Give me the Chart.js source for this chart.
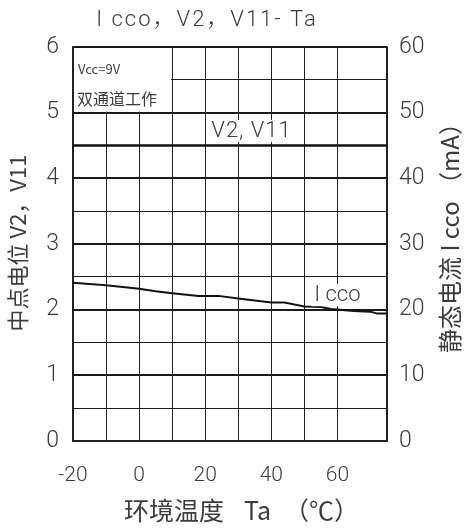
<!DOCTYPE html>
<html>
<head>
<meta charset="utf-8">
<script src="https://cdn.jsdelivr.net/npm/chart.js@4/dist/chart.umd.min.js"></script>
<style>
  html, body { margin: 0; padding: 0; background: #fff; }
  #wrap { width: 467px; height: 528px; }
</style>
</head>
<body>
<div id="wrap"><canvas id="myChart" width="467" height="528"></canvas></div>
<script>
// values
var tempC   = [-20, -10, 0, 5, 10, 18, 24, 30, 40, 44, 50, 55, 58, 65, 70, 72, 75];
var iccoMA  = [24.1, 23.7, 23.2, 22.8, 22.5, 22.1, 22.1, 21.7, 21.1, 21.1, 20.5, 20.4, 20.1, 19.8, 19.7, 19.4, 19.4];
var vTemp   = [-20, 75];
var v2v11   = [4.5, 4.5];
var xLabels = [-20, 0, 20, 40, 60];

var ink = '#3c3c3c';
var cjk = '"Noto Sans CJK SC", "Noto Sans", sans-serif';

function pts(xs, ys) {
    return xs.map(function (x, i) { return { x: x, y: ys[i] }; });
}

// white boxes + texts inside the plot
var notes = {
    id: 'notes',
    beforeDatasetsDraw: function (chart) {
        var c = chart.ctx, sx = chart.scales.x, sy = chart.scales.y;
        var x0 = sx.getPixelForValue(-20), x1 = sx.getPixelForValue(10);
        var y0 = sy.getPixelForValue(6), y1 = sy.getPixelForValue(5);
        c.save();
        c.fillStyle = '#fff';
        c.fillRect(x0 + 1, y0 + 1, x1 - x0 - 2, y1 - y0 - 2);
        c.fillStyle = ink;
        c.textBaseline = 'middle';
        c.font = '13px ' + cjk;
        c.fillText('Vcc=9V', x0 + 5, y0 + 22);
        c.font = '16px ' + cjk;
        c.fillText('双通道工作', x0 + 4, y0 + 52);
        c.restore();
    },
    afterDatasetsDraw: function (chart) {
        var c = chart.ctx, sx = chart.scales.x, sy = chart.scales.y, sr = chart.scales.y2;
        c.save();
        c.textAlign = 'center';
        c.textBaseline = 'middle';
        c.font = '300 22px Roboto, ' + cjk;
        // V2, V11 label
        var lx = sx.getPixelForValue(34), ly = sy.getPixelForValue(4.72);
        c.fillStyle = '#fff';
        c.fillRect(lx - 41, ly - 11, 82, 22);
        c.fillStyle = ink;
        c.letterSpacing = '1px';
        c.fillText('V2, V11', lx, ly);
        c.letterSpacing = '0px';
        // Icco label
        var ix = sx.getPixelForValue(60), iy = sr.getPixelForValue(22.2);
        c.fillStyle = '#fff';
        c.fillRect(ix - 26, iy - 11, 52, 22);
        c.fillStyle = ink;
        c.fillText('I cco', ix, iy);
        c.restore();
    },
    afterDraw: function (chart) {
        var c = chart.ctx;
        c.save();
        c.fillStyle = ink;
        c.textAlign = 'center';
        c.textBaseline = 'middle';
        c.font = '300 22px Roboto, ' + cjk;
        c.letterSpacing = '2px';
        c.fillText('I cco，V2，V11- Ta', 207, 20);
        c.letterSpacing = '0px';
        // x axis title in three pieces
        c.textAlign = 'left';
        c.font = '25px ' + cjk;
        c.fillText('环境温度', 124, 510);
        c.fillText('Ta', 244, 510);
        c.fillText('（℃）', 284, 510);
        c.textAlign = 'center';
        c.translate(18, 243);
        c.rotate(-Math.PI / 2);
        c.font = '22px ' + cjk;
        c.fillText('中点电位 V2，V11', 0, 0);
        c.restore();
        c.save();
        c.fillStyle = ink;
        c.textAlign = 'center';
        c.textBaseline = 'middle';
        c.font = '24px ' + cjk;
        c.translate(450, 232);
        c.rotate(-Math.PI / 2);
        c.fillText('静态电流 I cco （mA）', 0, 0);
        c.restore();
    }
};

var ctx = document.getElementById('myChart').getContext('2d');
var chart = new Chart(ctx, {
    type: 'line',
    data: {
        datasets: [
            {
                label: 'V2, V11',
                data: pts(vTemp, v2v11),
                yAxisID: 'y',
                borderColor: '#111',
                borderWidth: 2.5,
                pointRadius: 0,
                tension: 0
            },
            {
                label: 'Icco',
                data: pts(tempC, iccoMA),
                yAxisID: 'y2',
                borderColor: '#111',
                borderWidth: 2,
                pointRadius: 0,
                tension: 0
            }
        ]
    },
    plugins: [notes],
    options: {
        responsive: false,
        animation: false,
        layout: { padding: { top: 47, left: 0, right: 0, bottom: 0 } },
        plugins: {
            legend: { display: false },
            tooltip: { enabled: false }
        },
        scales: {
            x: {
                type: 'linear',
                min: -20,
                max: 75,
                afterFit: function (s) { s.height = 87; },
                ticks: {
                    stepSize: 10,
                    padding: 22,
                    autoSkip: false,
                    maxRotation: 0,
                    minRotation: 0,
                    color: ink,
                    font: { size: 21, family: 'Roboto', weight: '300' },
                    callback: function (v) { return xLabels.indexOf(v) >= 0 ? String(v) : ''; }
                },
                grid: {
                    color: '#222',
                    drawTicks: false,
                    lineWidth: function (c) { return c.tick.value === 70 ? 2 : 1; }
                },
                border: { color: '#222', width: 1.5 }
            },
            y: {
                position: 'left',
                min: 0,
                max: 6,
                afterFit: function (s) { s.width = 73; },
                ticks: {
                    stepSize: 0.5,
                    padding: 14,
                    autoSkip: false,
                    color: ink,
                    font: { size: 23, family: 'Roboto', weight: '300' },
                    callback: function (v) { return Number.isInteger(v) ? String(v) : ''; }
                },
                grid: {
                    color: '#1a1a1a',
                    drawTicks: false,
                    lineWidth: function (c) { return Number.isInteger(c.tick.value) ? 2 : 1; }
                },
                border: { color: '#222', width: 1.5 }
            },
            y2: {
                position: 'right',
                min: 0,
                max: 60,
                afterFit: function (s) { s.width = 80; },
                ticks: {
                    stepSize: 10,
                    padding: 12,
                    autoSkip: false,
                    color: ink,
                    font: { size: 23, family: 'Roboto', weight: '300' }
                },
                grid: { display: false, drawTicks: false },
                border: { color: '#222', width: 1.5 }
            }
        }
    }
});
</script>
</body>
</html>
